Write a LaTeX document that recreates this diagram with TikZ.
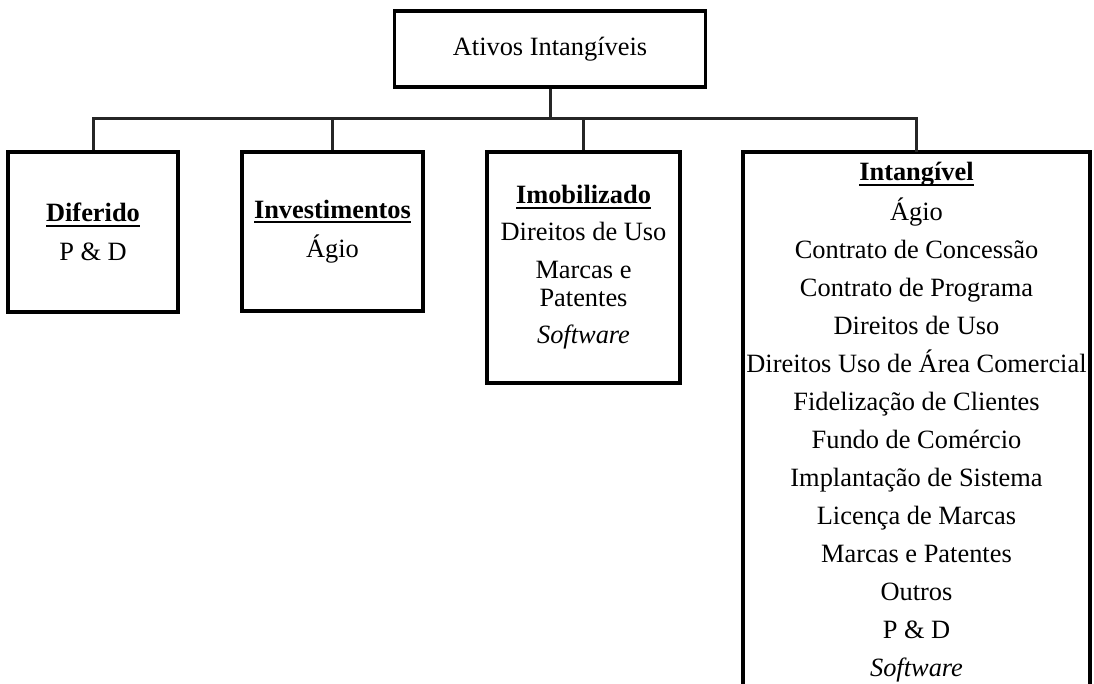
\documentclass[tikz,border=0pt]{standalone}
\usepackage{fontspec}
\setmainfont{Liberation Serif}
\newcommand\myhdr[1]{\setbox0\hbox{\textbf{#1}}\leavevmode\rlap{\rule[-5pt]{\wd0}{2pt}}\box0}
\begin{document}
\begin{tikzpicture}[x=1pt,y=-1pt,
  box/.style={draw, line width=3.5pt, align=center, inner sep=0pt, font=\fontsize{26.4}{28}\selectfont},
  frame/.style={inner sep=0pt},
  txt/.style={align=center, inner sep=0pt, font=\fontsize{26.4}{28}\selectfont},
  conn/.style={line width=3pt, draw=black!85}]
\useasboundingbox (0,0) rectangle (1094,684);
\fill[white] (0,0) rectangle (1094,684);
\node[box, minimum width=311pt, minimum height=76pt] (root) at (550,49) {Ativos Intangíveis};
\node[box, minimum width=170pt, minimum height=160pt] (dif) at (93,232) {\myhdr{Diferido}\\[11pt]P \& D};
\node[box, minimum width=181pt, minimum height=159pt] (inv) at (332.5,231.5) {\myhdr{Investimentos}\\[11pt]Ágio};
\node[box, minimum width=193pt, minimum height=231pt] (imo) at (583.5,267.5) {\myhdr{Imobilizado}\\[9pt]Direitos de Uso\\[10pt]Marcas e\\Patentes\\[9pt]\textit{Software}};
\node[frame, minimum width=347pt, minimum height=538pt] (intgbox) at (916.5,421) {};
\draw[line width=3.5pt] (intgbox.south west) -- (intgbox.north west) -- (intgbox.north east) -- (intgbox.south east);
\node[txt, anchor=north] (intg) at (916.5,162) {\myhdr{Intangível}\\[10pt]Ágio\\[10pt]Contrato de Concessão\\[10pt]Contrato de Programa\\[10pt]Direitos de Uso\\[10pt]Direitos Uso de Área Comercial\\[10pt]Fidelização de Clientes\\[10pt]Fundo de Comércio\\[10pt]Implantação de Sistema\\[10pt]Licença de Marcas\\[10pt]Marcas e Patentes\\[10pt]Outros\\[10pt]P \& D\\[10pt]\textit{Software}};
\coordinate (bus) at (550,119);
\draw[conn] (root.south) -- (bus);
\draw[conn] (bus) -| (dif.north);
\draw[conn] (bus) -| (inv.north);
\draw[conn] (bus) -| (imo.north);
\draw[conn] (bus) -| (intgbox.north);
\end{tikzpicture}
\end{document}
